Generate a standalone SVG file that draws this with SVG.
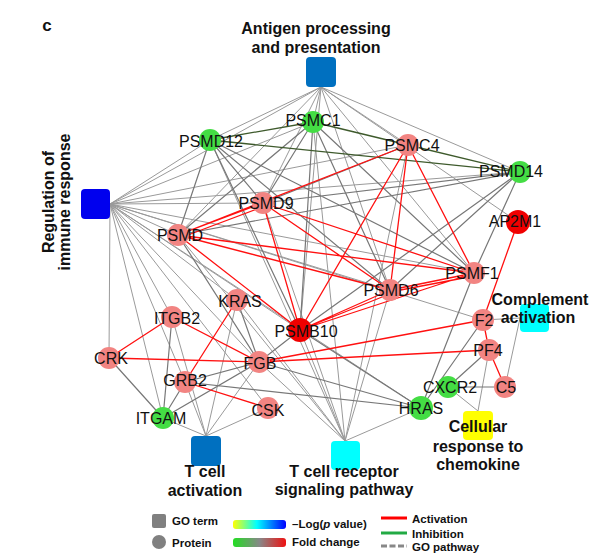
<svg xmlns="http://www.w3.org/2000/svg" width="600" height="560" viewBox="0 0 600 560">
<defs>
<style>
.go{stroke:#9a9a9a;stroke-width:1;fill:none}
.ppi{stroke:#777;stroke-width:1.2;fill:none}
.act{stroke:#ff1010;stroke-width:1.3;fill:none}
.inh{stroke:#3e5a2c;stroke-width:1.3;fill:none}
.lbl{font-family:"Liberation Sans",Arial,sans-serif;font-size:16px;fill:#111;text-anchor:middle}
.glbl{font-family:"Liberation Sans",Arial,sans-serif;font-size:16px;font-weight:bold;fill:#111;text-anchor:middle}
.leg{font-family:"Liberation Sans",Arial,sans-serif;font-size:11.5px;font-weight:bold;fill:#111}
.up{fill:#F28482}
.dn{fill:#44DD44}
.hi{fill:#F00000}
</style>
<linearGradient id="gp" x1="0" x2="1" y1="0" y2="0">
<stop offset="0" stop-color="#ffff00"/><stop offset="0.45" stop-color="#00ffff"/><stop offset="1" stop-color="#0000ff"/>
</linearGradient>
<linearGradient id="gf" x1="0" x2="1" y1="0" y2="0">
<stop offset="0" stop-color="#22dd22"/><stop offset="0.5" stop-color="#888888"/><stop offset="1" stop-color="#ee1111"/>
</linearGradient>
</defs>
<rect width="600" height="560" fill="#fff"/>
<text x="47" y="31" font-family="Liberation Sans,Arial,sans-serif" font-size="17" font-weight="bold" text-anchor="middle" fill="#111">c</text>

<g id="connectors">
<path class="go" d="M321 87L210 140M321 87L313 122M321 87L408 145M321 87L520 172M321 87L263 203M321 87L178 235M321 87L390 290M321 87L474 273M321 87L300 330M321 87L518 222M321 87L110 204"/>
<path class="go" d="M110 204L210 140M110 204L313 122M110 204L408 145M110 204L520 172M110 204L263 203M110 204L178 235M110 204L474 273M110 204L300 330M110 204L237 300M110 204L172 317M110 204L109 358M110 204L185 382M110 204L163 418M110 204L259 362M110 204L268 408M110 204L421 408M110 204L483 320M110 204L390 290"/>
<path class="go" d="M206 436L163 418M206 436L185 382M206 436L259 362M206 436L268 408M206 436L237 300M206 436L172 317"/>
<path class="go" d="M345 441L237 300M345 441L259 362M345 441L300 330M345 441L263 203M345 441L313 122M345 441L390 290M345 441L408 145M345 441L421 408M345 441L210 140M345 441L178 235"/>
<path class="go" d="M520 318L483 320M520 318L505 387M478 411L448 387M478 411L489 350"/>
<path class="ppi" d="M210 140L263 203M210 140L178 235M210 140L390 290M210 140L300 330M210 140L474 273M313 122L263 203M313 122L178 235M313 122L390 290M313 122L300 330M313 122L474 273M520 172L263 203M520 172L178 235M520 172L390 290M520 172L474 273M520 172L300 330M408 145L263 203M300 330L259 362M300 330L421 408M259 362L421 408M185 382L421 408M185 382L259 362M163 418L185 382M163 418L259 362M109 358L163 418M172 317L163 418M483 320L421 408M474 273L421 408M489 350L448 387M448 387L505 387M237 300L259 362M178 235L259 362"/>
<path class="inh" d="M210 140L313 122M210 140L520 172M313 122L408 145M313 122L520 172M408 145L520 172"/>
<path class="act" d="M178 235L263 203M180 238L265 206M178 235L408 145M263 203L390 290M263 203L474 273M263 203L300 330M178 235L474 273M178 235L390 290M178 235L300 330M408 145L300 330M408 145L390 290M408 145L474 273M300 330L390 290M300 330L392 293M300 330L474 273M390 290L474 273M390 292L474 276M518 222L483 320M483 320L489 350M483 320L259 362M489 350L259 362M489 350L505 387M259 362L109 358M259 362L172 317M172 317L109 358M237 300L185 382M185 382L268 408"/>
</g>

<g id="go-antigen"><rect x="306" y="57" width="30" height="30" rx="4" fill="#0070C0"/><text class="glbl" x="316" y="34">Antigen processing</text><text class="glbl" x="316" y="53">and presentation</text></g>
<g id="go-regulation"><rect x="81" y="189" width="29" height="30" rx="4" fill="#0000EE"/><text class="glbl" transform="translate(54,202) rotate(-90)">Regulation of</text><text class="glbl" transform="translate(70,202) rotate(-90)">immune response</text></g>
<g id="go-tcell"><rect x="191" y="436" width="30" height="30" rx="4" fill="#0070C0"/><text class="glbl" x="205" y="477">T cell</text><text class="glbl" x="205" y="496">activation</text></g>
<g id="go-tcr"><rect x="331" y="441" width="29" height="29" rx="4" fill="#00FFFF"/><text class="glbl" x="344" y="477">T cell receptor</text><text class="glbl" x="344" y="495">signaling pathway</text></g>
<g id="go-complement"><rect x="520" y="304" width="29" height="28" rx="4" fill="#00FFFF"/><text class="glbl" x="540" y="305">Complement</text><text class="glbl" x="538" y="323">activation</text></g>
<g id="go-chemokine"><rect x="463" y="411" width="30" height="29" rx="4" fill="#FFFF00"/><text class="glbl" x="478" y="432">Cellular</text><text class="glbl" x="478" y="452">response to</text><text class="glbl" x="478" y="470">chemokine</text></g>

<g id="PSMC1"><circle cx="313" cy="122" r="11" class="dn"/><text class="lbl" x="313" y="126">PSMC1</text></g>
<g id="PSMD12"><circle cx="210" cy="140" r="11" class="dn"/><text class="lbl" x="211" y="147">PSMD12</text></g>
<g id="PSMC4"><circle cx="408" cy="145" r="11" class="up"/><text class="lbl" x="412" y="151">PSMC4</text></g>
<g id="PSMD14"><circle cx="520" cy="172" r="11" class="dn"/><text class="lbl" x="511" y="177">PSMD14</text></g>
<g id="PSMD9"><circle cx="263" cy="203" r="11" class="up"/><text class="lbl" x="266" y="209">PSMD9</text></g>
<g id="AP2M1"><circle cx="518" cy="222" r="12" class="hi"/><text class="lbl" x="515" y="227">AP2M1</text></g>
<g id="PSMD"><circle cx="178" cy="235" r="11" class="up"/><text class="lbl" x="180" y="241">PSMD</text></g>
<g id="KRAS"><circle cx="237" cy="300" r="11" class="up"/><text class="lbl" x="240" y="307">KRAS</text></g>
<g id="ITGB2"><circle cx="172" cy="317" r="11" class="up"/><text class="lbl" x="177" y="324">ITGB2</text></g>
<g id="PSMB10"><circle cx="300" cy="330" r="12" class="hi"/><text class="lbl" x="306" y="337">PSMB10</text></g>
<g id="PSMD6"><circle cx="390" cy="290" r="11" class="up"/><text class="lbl" x="391" y="296">PSMD6</text></g>
<g id="PSMF1"><circle cx="474" cy="273" r="11" class="up"/><text class="lbl" x="472" y="279">PSMF1</text></g>
<g id="F2"><circle cx="483" cy="320" r="11" class="up"/><text class="lbl" x="484" y="326">F2</text></g>
<g id="PF4"><circle cx="489" cy="350" r="11" class="up"/><text class="lbl" x="488" y="356">PF4</text></g>
<g id="CXCR2"><circle cx="448" cy="387" r="11" class="dn"/><text class="lbl" x="450" y="393">CXCR2</text></g>
<g id="C5"><circle cx="505" cy="387" r="11" class="up"/><text class="lbl" x="506" y="393">C5</text></g>
<g id="HRAS"><circle cx="421" cy="408" r="12" class="dn"/><text class="lbl" x="421" y="414">HRAS</text></g>
<g id="CSK"><circle cx="268" cy="408" r="11" class="up"/><text class="lbl" x="268" y="416">CSK</text></g>
<g id="FGB"><circle cx="259" cy="362" r="11" class="up"/><text class="lbl" x="260" y="369">FGB</text></g>
<g id="CRK"><circle cx="109" cy="358" r="11" class="up"/><text class="lbl" x="111" y="364">CRK</text></g>
<g id="GRB2"><circle cx="185" cy="382" r="11" class="up"/><text class="lbl" x="185" y="386">GRB2</text></g>
<g id="ITGAM"><circle cx="163" cy="418" r="11" class="dn"/><text class="lbl" x="161" y="424">ITGAM</text></g>

<g id="legend">
<rect x="152" y="514" width="14" height="14" rx="2" fill="#808080"/>
<text class="leg" x="172" y="525">GO term</text>
<circle cx="159" cy="542" r="7" fill="#808080"/>
<text class="leg" x="172" y="547">Protein</text>
<rect x="233" y="520" width="53" height="9" rx="3" fill="url(#gp)"/>
<text class="leg" x="292" y="528">–Log(<tspan font-style="italic">p</tspan> value)</text>
<rect x="233" y="538" width="53" height="9" rx="3" fill="url(#gf)"/>
<text class="leg" x="292" y="546">Fold change</text>
<line x1="381" y1="518" x2="407" y2="518" stroke="#ff0000" stroke-width="3"/>
<text class="leg" x="412" y="523">Activation</text>
<line x1="381" y1="533" x2="407" y2="533" stroke="#22aa44" stroke-width="3"/>
<text class="leg" x="412" y="538">Inhibition</text>
<line x1="381" y1="546" x2="407" y2="546" stroke="#888" stroke-width="3" stroke-dasharray="6,2.5"/>
<text class="leg" x="412" y="551">GO pathway</text>
</g>
</svg>
